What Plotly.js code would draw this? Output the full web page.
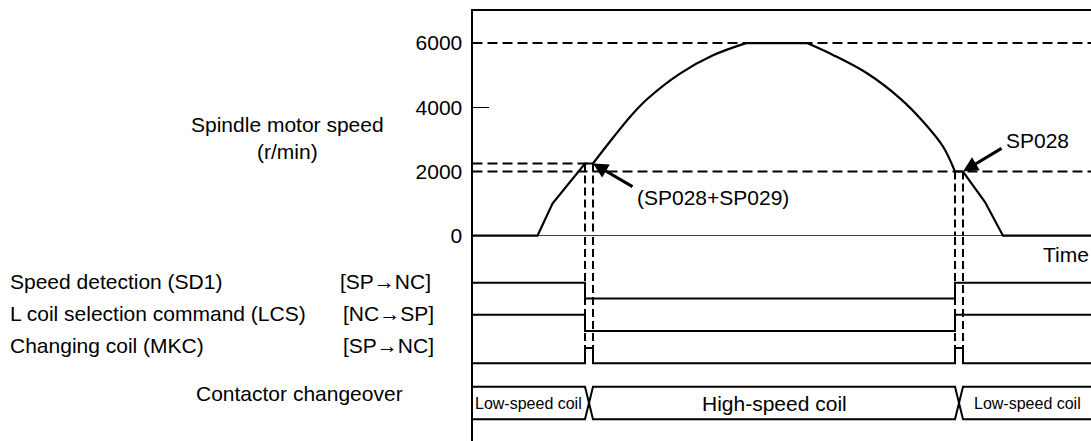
<!DOCTYPE html>
<html><head><meta charset="utf-8">
<script src="https://cdn.plot.ly/plotly-3.0.1.min.js"></script>
<style>html,body{margin:0;padding:0;background:#fff;}#chart{width:1091px;height:441px;}</style>
</head><body><div id="chart"></div>
<script>
// ---------------- data ----------------
// time in arbitrary units (left axis = 0)
const speedTime   = [0, 6.5, 8.0, 11.25, 12.05, 14.05, 15.75, 17.45, 20.75, 24.05, 27.35, 33.45, 36.05, 39.45, 42.75, 45.05, 47.05, 48.25, 49.05, 51.25, 53.05, 61.85];
const speedValues = [0, 0, 1000, 2250, 2250, 3050, 3700, 4250, 5050, 5620, 6000, 6000, 5630, 5060, 4280, 3560, 2780, 2000, 2000, 1050, 0, 0];
// which stretches of the speed profile are curved (accel / decel arcs)
const curvedSpans = [[4, 10], [11, 17]];
const switchTimes = [11.25, 12.05, 48.25, 49.05];
const endTime = 61.85;
const speedTickVals = [0, 2000, 4000, 6000];
const speedTickText = ['0', '2000', '4000', '6000'];
const refSpeeds = [6000, 2000];
const upThreshold = 2250;    // SP028+SP029
const downThreshold = 2000;  // SP028
const sd1Time  = [0, 11.25, 48.25, 61.85];
const sd1State = [1, 0, 1, 1];
const lcsTime  = [0, 11.25, 48.25, 61.85];
const lcsState = [1, 0, 1, 1];
const mkcTime  = [0, 11.25, 12.05, 48.25, 49.05, 61.85];
const mkcState = [0, 1, 0, 1, 0, 0];
const coilLabels = ['Low-speed coil', 'High-speed coil', 'Low-speed coil'];
const coilStart  = [0, 12.05, 49.05];
const coilEnd    = [11.25, 48.25, 61.85];
const signalNames = ['Speed detection (SD1)', 'L coil selection command (LCS)', 'Changing coil (MKC)'];
const signalDirs  = ['[SP\u2192NC]', '[NC\u2192SP]', '[SP\u2192NC]'];

// ---------------- layout helpers ----------------
const W = 1091, H = 441;
const FONT = 'Liberation Sans, Arial, Helvetica, sans-serif';
const BLACK = '#000';
const axisLeftPx = 472.5;
const speedTopPx = 11, speedBottomPx = 237;
const sigTop = H - speedBottomPx;
const lanes = {
  sd1:  {lo: 142.5, hi: 158.3},
  lcs:  {lo: 110.0, hi: 126.3},
  mkc:  {lo: 77.7,  hi: 93.0},
  coil: {lo: 21.7,  hi: 54.3}
};
const HDASH = '10px,5px', VDASH = '8px,4px';
const px = (x) => x / W, py = (y) => (H - y) / H;

const traces = [];
function line(x, y, opts) {
  traces.push(Object.assign({type: 'scatter', mode: 'lines', x: x, y: y, hoverinfo: 'skip',
    xaxis: 'x', yaxis: 'y', line: {color: BLACK, width: 2}}, opts || {}));
}
refSpeeds.forEach(v => line([0, endTime], [v, v], {line: {color: BLACK, width: 2, dash: HDASH}}));
line([0, switchTimes[1]], [upThreshold, upThreshold], {line: {color: BLACK, width: 2, dash: HDASH}});
const vThr = [upThreshold, upThreshold, downThreshold, downThreshold];
switchTimes.forEach((t, i) => {
  line([t, t], [vThr[i], 0], {line: {color: BLACK, width: 2, dash: VDASH}});
  line([t, t], [sigTop, lanes.mkc.hi], {yaxis: 'y2', line: {color: BLACK, width: 2, dash: VDASH}});
});
// speed curve: straight pieces and smooth arcs
let prev = 0;
curvedSpans.forEach(([a, b]) => {
  line(speedTime.slice(prev, a + 1), speedValues.slice(prev, a + 1), {line: {color: BLACK, width: 2.2}});
  line(speedTime.slice(a, b + 1), speedValues.slice(a, b + 1), {line: {color: BLACK, width: 2.2, shape: 'spline', smoothing: 1}});
  prev = b;
});
line(speedTime.slice(prev), speedValues.slice(prev), {line: {color: BLACK, width: 2.2}});
// signals
function step(tArr, sArr, lane) {
  line(tArr, sArr.map(s => lane.lo + s * (lane.hi - lane.lo)), {yaxis: 'y2', line: {color: BLACK, width: 2, shape: 'hv'}});
}
step(sd1Time, sd1State, lanes.sd1);
step(lcsTime, lcsState, lanes.lcs);
step(mkcTime, mkcState, lanes.mkc);
// contactor bus
const pX = [], pY = [], qX = [], qY = [];
coilLabels.forEach((lab, i) => {
  const a = i % 2 === 0 ? lanes.coil.hi : lanes.coil.lo;
  const b = i % 2 === 0 ? lanes.coil.lo : lanes.coil.hi;
  pX.push(coilStart[i], coilEnd[i]); pY.push(a, a);
  qX.push(coilStart[i], coilEnd[i]); qY.push(b, b);
});
line(pX, pY, {yaxis: 'y2'});
line(qX, qY, {yaxis: 'y2'});
traces.push({type: 'scatter', mode: 'lines', x: [], y: [], xaxis: 'x', yaxis: 'y3', hoverinfo: 'skip'});

// annotations
const ann = [];
function txt(text, x, y, size, anchor) {
  ann.push({text: text, xref: 'paper', yref: 'paper', x: px(x), y: py(y), xanchor: anchor || 'left', yanchor: 'middle',
    showarrow: false, font: {family: FONT, size: size, color: BLACK}, borderpad: 0});
}
txt('Spindle motor speed', 287, 124, 21, 'center');
txt('(r/min)', 287, 151, 21, 'center');
const laneYpx = [281, 313, 345];
signalNames.forEach((s, i) => txt(s, 9, laneYpx[i], 21));
signalDirs.forEach((s, i) => txt(s, i === 0 ? 339 : 341.5, laneYpx[i], 21));
txt('Contactor changeover', 299, 393, 21, 'center');
txt('Time', 1090, 254, 21, 'right');
txt('(SP028+SP029)', 635.5, 197, 21);
txt('SP028', 1005, 140, 21);
const coilSizes = [16, 21, 16];
coilLabels.forEach((lab, i) => ann.push({text: lab, xref: 'x', yref: 'y2',
  x: (coilStart[i] + coilEnd[i]) / 2, y: (lanes.coil.lo + lanes.coil.hi) / 2,
  xanchor: 'center', yanchor: 'middle', showarrow: false, font: {family: FONT, size: coilSizes[i], color: BLACK}}));
ann.push({text: '', xref: 'x', yref: 'y', x: switchTimes[1], y: upThreshold, ax: 41, ay: 24,
  showarrow: true, arrowhead: 2, arrowsize: 1, arrowwidth: 3, arrowcolor: BLACK, standoff: 0});
ann.push({text: '', xref: 'x', yref: 'y', x: switchTimes[3], y: downThreshold, ax: 40, ay: -24,
  showarrow: true, arrowhead: 2, arrowsize: 1, arrowwidth: 3, arrowcolor: BLACK, standoff: 0});

const speedRange = [-40, 7000];
const layout = {
  width: W, height: H, margin: {l: 0, r: 0, t: 0, b: 0, pad: 0},
  paper_bgcolor: '#fff', plot_bgcolor: 'rgba(0,0,0,0)', showlegend: false,
  font: {family: FONT, size: 21, color: BLACK},
  xaxis: {domain: [px(axisLeftPx), 1], range: [0, endTime], side: 'top', anchor: 'y',
    showline: true, linewidth: 2, linecolor: BLACK, showticklabels: false, ticks: '',
    showgrid: false, zeroline: false, fixedrange: true},
  yaxis: {domain: [py(speedBottomPx), py(speedTopPx)], range: speedRange, anchor: 'x',
    showline: true, linewidth: 2, linecolor: BLACK, ticks: '',
    tickvals: speedTickVals, ticktext: speedTickText, tickfont: {family: FONT, size: 21, color: BLACK},
    ticklabelstandoff: 4,
    showgrid: false, zeroline: true, zerolinecolor: '#444', zerolinewidth: 1, fixedrange: true},
  yaxis3: {overlaying: 'y', anchor: 'x', range: speedRange, tickvals: [4000], ticks: 'inside', ticklen: 16,
    tickwidth: 1.2, tickcolor: BLACK, showticklabels: false, showline: false, showgrid: false, zeroline: false, fixedrange: true},
  yaxis2: {domain: [0, py(speedBottomPx)], range: [0, sigTop], anchor: 'x',
    showline: true, linewidth: 2, linecolor: BLACK, ticks: '', showticklabels: false,
    showgrid: false, zeroline: false, fixedrange: true},
  annotations: ann
};
Plotly.newPlot('chart', traces, layout, {staticPlot: true, displayModeBar: false});
</script></body></html>
